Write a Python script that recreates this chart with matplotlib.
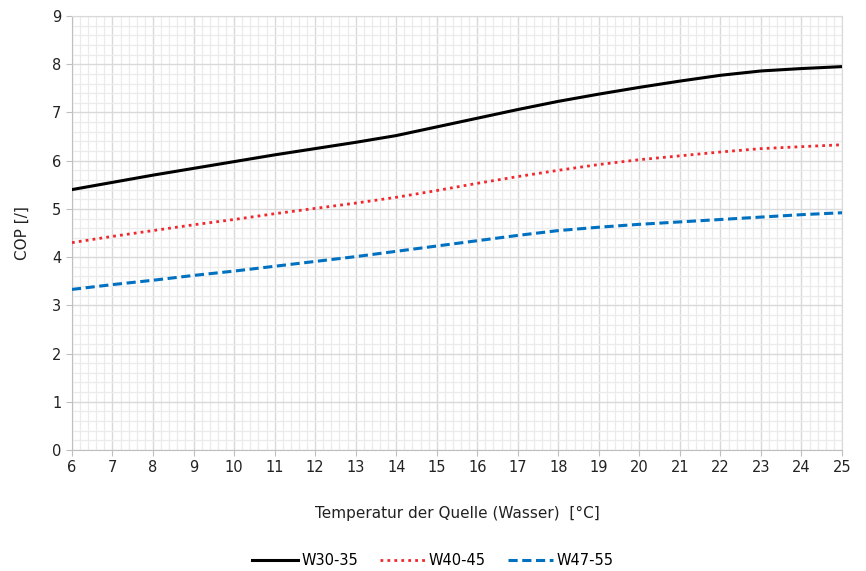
import matplotlib
matplotlib.use("Agg")
import matplotlib.pyplot as plt
from matplotlib.ticker import MultipleLocator

# Quelltemperatur (Wasser) in °C
temp = [6, 7, 8, 9, 10, 11, 12, 13, 14, 15, 16, 17, 18, 19, 20, 21, 22, 23, 24, 25]

# COP values per supply temperature
cop_w30_35 = [5.40, 5.55, 5.70, 5.84, 5.98, 6.12, 6.25, 6.38, 6.52, 6.70,
              6.88, 7.06, 7.23, 7.38, 7.52, 7.65, 7.77, 7.86, 7.91, 7.95]
cop_w40_45 = [4.30, 4.43, 4.55, 4.67, 4.78, 4.90, 5.01, 5.12, 5.24, 5.38,
              5.53, 5.67, 5.80, 5.92, 6.02, 6.10, 6.18, 6.25, 6.29, 6.33]
cop_w47_55 = [3.33, 3.43, 3.52, 3.62, 3.71, 3.81, 3.91, 4.01, 4.12, 4.23,
              4.34, 4.45, 4.55, 4.62, 4.68, 4.73, 4.78, 4.83, 4.88, 4.92]

plt.rcParams['font.family'] = ['DejaVu Sans']

fig = plt.figure(figsize=(8.66, 5.71), dpi=100)
ax = fig.add_axes([0.0831, 0.2119, 0.8892, 0.7601])

ax.plot(temp, cop_w30_35, color='black', lw=2.2, ls='-', label='W30-35', zorder=3)
ax.plot(temp, cop_w40_45, color='#f0282d', lw=2.0, ls=(0, (1, 1.5)), label='W40-45', zorder=3)
ax.plot(temp, cop_w47_55, color='#0070c0', lw=2.2, ls=(0, (3, 1.5)), label='W47-55', zorder=3)

ax.set_xlim(6, 25)
ax.set_ylim(0, 9)
ax.xaxis.set_major_locator(MultipleLocator(1))
ax.yaxis.set_major_locator(MultipleLocator(1))
ax.xaxis.set_minor_locator(MultipleLocator(0.2))
ax.yaxis.set_minor_locator(MultipleLocator(0.2))

ax.grid(which='major', color='#d9d9d9', lw=1.0)
ax.grid(which='minor', color='#ebebeb', lw=0.9)
ax.set_axisbelow(True)

for s in ax.spines.values():
    s.set_color('#d9d9d9')
ax.spines['bottom'].set_color('#bfbfbf')
ax.spines['left'].set_color('#bfbfbf')

ax.tick_params(which='major', length=4, color='#bfbfbf', labelsize=10.5, labelcolor='#222222')
ax.tick_params(which='minor', length=0)

ax.set_xlabel('Temperatur der Quelle (Wasser)  [°C]', fontsize=11, color='#222222', labelpad=22)
ax.set_ylabel('COP [/]', fontsize=11, color='#222222', labelpad=16)

fig.legend(loc='lower center', bbox_to_anchor=(0.5, -0.018), ncol=3, frameon=False,
           fontsize=10.5, handlelength=3.1, columnspacing=1.5, handletextpad=0.25)

fig.savefig('out.png', dpi=100)
